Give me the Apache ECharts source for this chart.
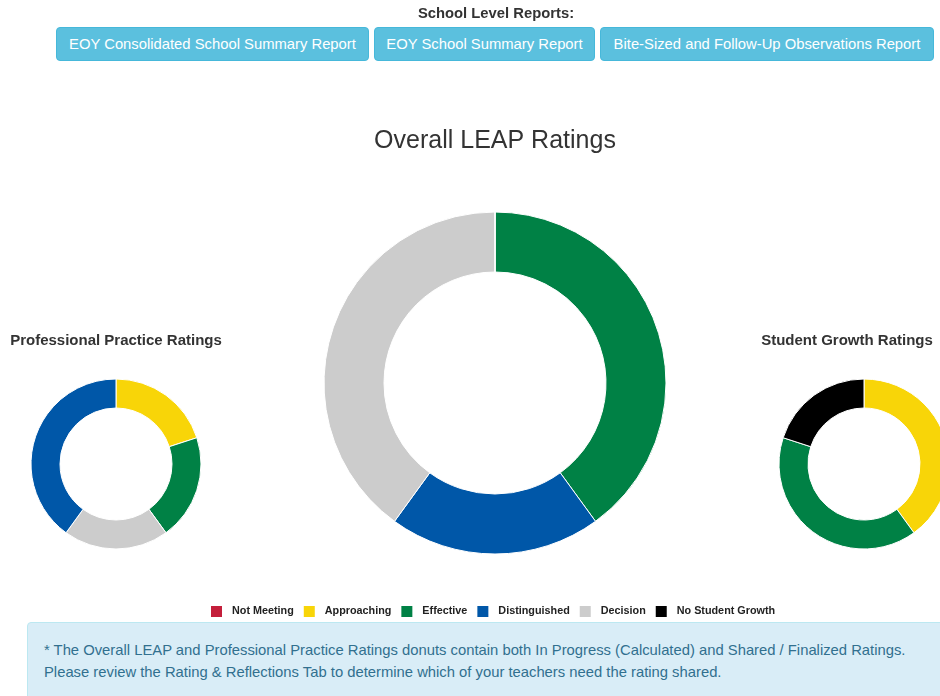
<!DOCTYPE html>
<html>
<head>
<meta charset="utf-8">
<script src="https://cdn.jsdelivr.net/npm/echarts@6/dist/echarts.min.js"></script>
<style>
  body { margin: 0; font-family: "Liberation Sans", Arial, sans-serif; background: #fff; }
  #chart { position: absolute; left: 0; top: 0; width: 940px; height: 696px; }
  .reportsLabel { position: absolute; left: 0; width: 992px; top: 5px; text-align: center;
    font-size: 14.8px; font-weight: bold; color: #333; }
  .btn { position: absolute; top: 27px; height: 34px; line-height: 33px; background: #5bc0de;
    border: 1px solid #46b8da; border-radius: 4px; color: #fff; font-size: 14.8px; text-align: center;
    box-sizing: border-box; white-space: nowrap; }
  .note { position: absolute; left: 27px; top: 622px; width: 940px; height: 90px; box-sizing: border-box;
    background: #d9edf7; border: 1px solid #bce8f1; border-radius: 4px; color: #31708f;
    font-size: 14.8px; line-height: 22px; padding: 16px 16px; white-space: nowrap; }
</style>
</head>
<body>
<div id="chart"></div>
<div class="reportsLabel">School Level Reports:</div>
<div class="btn" style="left:56px;width:313px;">EOY Consolidated School Summary Report</div>
<div class="btn" style="left:374px;width:221px;">EOY School Summary Report</div>
<div class="btn" style="left:600px;width:334px;">Bite-Sized and Follow-Up Observations Report</div>
<div class="note">* The Overall LEAP and Professional Practice Ratings donuts contain both In Progress (Calculated) and Shared / Finalized Ratings.<br>Please review the Rating &amp; Reflections Tab to determine which of your teachers need the rating shared.</div>
<script>
// rating categories and their colours
const ratingNames = ["Not Meeting", "Approaching", "Effective", "Distinguished", "Decision", "No Student Growth"];
const ratingColors = {
  "Not Meeting": "#c41f3b",
  "Approaching": "#f8d508",
  "Effective": "#008145",
  "Distinguished": "#0057a8",
  "Decision": "#cccccc",
  "No Student Growth": "#000000",
};

// teacher counts per donut (clockwise order from 12 o'clock)
const overallNames = ["Effective", "Distinguished", "Decision", "Not Meeting"];
const overallValues = [2, 1, 2, 0];

const practiceNames = ["Approaching", "Effective", "Decision", "Distinguished"];
const practiceValues = [1, 1, 1, 2];

const growthNames = ["Approaching", "Effective", "No Student Growth"];
const growthValues = [2, 2, 1];

const toPieData = (names, values) =>
  names.map((name, i) => ({
    name: name,
    value: values[i],
    itemStyle: { color: ratingColors[name] },
  }));

const donut = (name, names, values, center, radius) => ({
  name: name,
  type: "pie",
  center: center,
  radius: radius,
  startAngle: 90,
  clockwise: true,
  avoidLabelOverlap: false,
  label: { show: false },
  labelLine: { show: false },
  emphasis: { disabled: true },
  itemStyle: { borderColor: "#ffffff", borderWidth: 1 },
  data: toPieData(names, values),
});

var chartDom = document.getElementById("chart");
var myChart = echarts.init(chartDom, null, { renderer: "canvas" });
var option;

option = {
  animation: false,
  textStyle: { fontFamily: "Liberation Sans, Arial, sans-serif" },
  title: [
    {
      text: "Overall LEAP Ratings",
      left: 495,
      top: 129,
      padding: 0,
      textAlign: "center",
      textStyle: { fontSize: 25, fontWeight: "normal", color: "#333333" },
    },
    {
      text: "Professional Practice Ratings",
      left: 116,
      top: 333,
      padding: 0,
      textAlign: "center",
      textStyle: { fontSize: 15, fontWeight: "bold", color: "#333333" },
    },
    {
      text: "Student Growth Ratings",
      left: 847,
      top: 333,
      padding: 0,
      textAlign: "center",
      textStyle: { fontSize: 15, fontWeight: "bold", color: "#333333" },
    },
  ],
  legend: {
    data: ratingNames,
    left: 211,
    top: 606,
    padding: 0,
    icon: "rect",
    itemWidth: 11,
    itemHeight: 11,
    itemGap: 10,
    selectedMode: false,
    itemStyle: { borderWidth: 0 },
    textStyle: { fontSize: 10.8, fontWeight: "bold", color: "#222222", padding: [0, 0, 0, 5] },
  },
  series: [
    donut("Overall LEAP Ratings", overallNames, overallValues, [495, 383], [111, 171]),
    donut("Professional Practice Ratings", practiceNames, practiceValues, [116, 464], [56, 85]),
    donut("Student Growth Ratings", growthNames, growthValues, [864, 464], [56, 85]),
  ],
};

option && myChart.setOption(option);
</script>
</body>
</html>
